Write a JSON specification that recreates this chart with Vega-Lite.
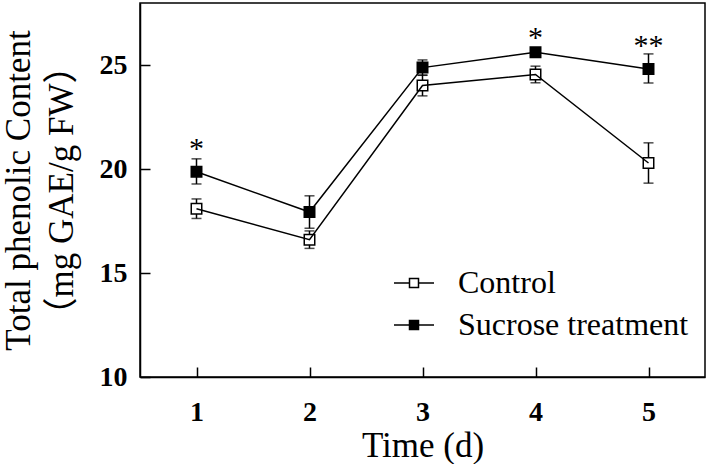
{
  "$schema": "https://vega.github.io/schema/vega-lite/v6.json",
  "width": 565,
  "height": 374,
  "autosize": {"type": "none"},
  "padding": {"left": 140, "top": 3, "right": 4, "bottom": 87},
  "background": "white",
  "config": {
    "view": {"stroke": "black", "strokeWidth": 1.5},
    "font": "Liberation Serif",
    "axis": {
      "grid": false,
      "domainColor": "black",
      "domainWidth": 1.5,
      "tickColor": "black",
      "tickWidth": 1.5,
      "tickSize": -10,
      "labelFont": "Liberation Serif",
      "labelFontWeight": "bold",
      "labelFontSize": 28,
      "labelColor": "black",
      "titleFont": "Liberation Serif, Noto Sans CJK SC",
      "titleFontWeight": "normal",
      "titleFontSize": 35,
      "titleColor": "black"
    }
  },
  "datasets": {
    "main": [
      {"day": 1, "series": "Control", "mean": 18.1, "lo": 17.63, "hi": 18.57},
      {"day": 2, "series": "Control", "mean": 16.61, "lo": 16.19, "hi": 17.03},
      {"day": 3, "series": "Control", "mean": 24.03, "lo": 23.53, "hi": 24.53},
      {"day": 4, "series": "Control", "mean": 24.56, "lo": 24.16, "hi": 24.96},
      {"day": 5, "series": "Control", "mean": 20.3, "lo": 19.33, "hi": 21.27},
      {"day": 1, "series": "Sucrose treatment", "mean": 19.88, "lo": 19.29, "hi": 20.5},
      {"day": 2, "series": "Sucrose treatment", "mean": 17.94, "lo": 17.16, "hi": 18.72},
      {"day": 3, "series": "Sucrose treatment", "mean": 24.89, "lo": 24.52, "hi": 25.26},
      {"day": 4, "series": "Sucrose treatment", "mean": 25.63, "lo": 25.45, "hi": 25.8},
      {"day": 5, "series": "Sucrose treatment", "mean": 24.82, "lo": 24.15, "hi": 25.55}
    ],
    "stars": [
      {"day": 1, "label": "*", "y": 20.52},
      {"day": 4, "label": "*", "y": 25.9},
      {"day": 5, "label": "**", "y": 25.5}
    ]
  },
  "layer": [
    {
      "data": {"name": "main"},
      "mark": {"type": "rule", "color": "black", "strokeWidth": 1.5},
      "encoding": {
        "x": {"field": "day", "type": "quantitative", "scale": {"domain": [0.5, 5.5]},
              "axis": {"values": [1, 2, 3, 4, 5], "format": "d", "title": "Time (d)", "labelPadding": 31, "titleY": 79, "titleBaseline": "alphabetic"}},
        "y": {"field": "lo", "type": "quantitative", "scale": {"domain": [10, 28]},
              "axis": {"values": [10, 15, 20, 25], "format": "d", "title": ["Total phenolic Content", "（mg GAE/g FW）"], "labelPadding": 23, "titleX": -111, "titleBaseline": "alphabetic", "titleLineHeight": 43, "titleAngle": -90}},
        "y2": {"field": "hi"}
      }
    },
    {
      "data": {"name": "main"},
      "mark": {"type": "tick", "orient": "horizontal", "color": "black", "size": 10, "thickness": 1.5},
      "encoding": {
        "x": {"field": "day", "type": "quantitative"},
        "y": {"field": "lo", "type": "quantitative"}
      }
    },
    {
      "data": {"name": "main"},
      "mark": {"type": "tick", "orient": "horizontal", "color": "black", "size": 10, "thickness": 1.5},
      "encoding": {
        "x": {"field": "day", "type": "quantitative"},
        "y": {"field": "hi", "type": "quantitative"}
      }
    },
    {
      "data": {"name": "main"},
      "mark": {"type": "point", "shape": "square", "size": 110, "stroke": "black", "strokeWidth": 1.5, "opacity": 1, "filled": false},
      "encoding": {
        "x": {"field": "day", "type": "quantitative"},
        "y": {"field": "mean", "type": "quantitative"},
        "fill": {
          "field": "series", "type": "nominal",
          "scale": {"domain": ["Control", "Sucrose treatment"], "range": ["white", "black"]},
          "legend": {
            "orient": "none", "legendX": 253, "legendY": 259, "title": null, "padding": 0,
            "symbolType": "M-1,0H-0.225M0.225,0H1M-0.225,-0.225H0.225V0.225H-0.225Z",
            "symbolSize": 1600, "symbolStrokeColor": "black", "symbolStrokeWidth": 1.5,
            "labelFont": "Liberation Serif", "labelFontSize": 32, "labelColor": "black",
            "labelOffset": 23, "rowPadding": 5, "labelLimit": 400
          }
        }
      }
    },
    {
      "data": {"name": "main"},
      "mark": {"type": "line", "color": "black", "strokeWidth": 1.5},
      "encoding": {
        "x": {"field": "day", "type": "quantitative"},
        "y": {"field": "mean", "type": "quantitative"},
        "detail": {"field": "series", "type": "nominal"}
      }
    },
    {
      "data": {"name": "stars"},
      "mark": {"type": "text", "font": "Liberation Serif", "fontSize": 30, "baseline": "alphabetic", "align": "center", "color": "black"},
      "encoding": {
        "x": {"field": "day", "type": "quantitative"},
        "y": {"field": "y", "type": "quantitative"},
        "text": {"field": "label"}
      }
    }
  ]
}
